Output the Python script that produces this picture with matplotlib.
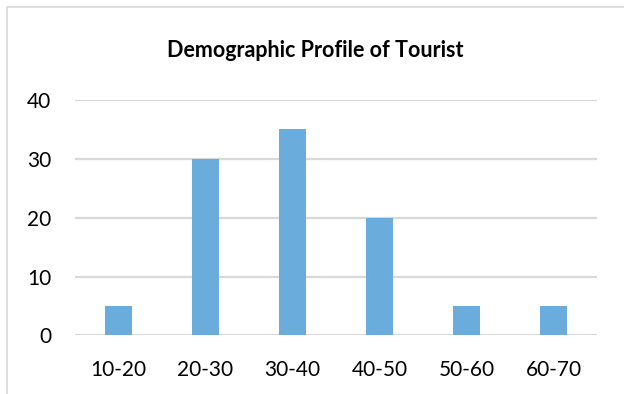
import matplotlib.pyplot as plt
from matplotlib.patches import Rectangle

# Age groups and tourist counts
age_groups = ["10-20", "20-30", "30-40", "40-50", "50-60", "60-70"]
tourists = [5, 30, 35, 20, 5, 5]
y_ticks = [0, 10, 20, 30, 40]

plt.rcParams['font.family'] = ['Lato', 'DejaVu Sans']

fig = plt.figure(figsize=(6.24, 3.94), dpi=100)
ax = fig.add_axes([0.1202, 0.1485, 0.8365, 0.5977])

x = range(len(age_groups))
ax.bar(x, tourists, width=0.31, color='#6aacdc', zorder=3)

ax.set_xlim(-0.5, len(age_groups) - 0.5)
ax.set_ylim(0, 40)
ax.set_yticks(y_ticks)
ax.set_xticks(list(x))
ax.set_xticklabels(age_groups)
ax.grid(axis='y', color='#d9d9d9', linewidth=1.6, zorder=0)
ax.tick_params(length=0, labelsize=15, colors='black')
ax.tick_params(axis='y', pad=17)
ax.tick_params(axis='x', pad=18)
for s in ax.spines.values():
    s.set_visible(False)
ax.set_axisbelow(True)

fig.text(0.506, 0.872, "Demographic Profile of Tourist", ha='center', va='center',
         fontsize=15.5, fontweight='bold')

# chart border
fig.patches.append(Rectangle((7 / 624, -0.1), 1.2, 1.1 - 7 / 394, transform=fig.transFigure,
                             fill=False, edgecolor='#d9d9d9', linewidth=1.2))

fig.savefig("out.png", dpi=100)
